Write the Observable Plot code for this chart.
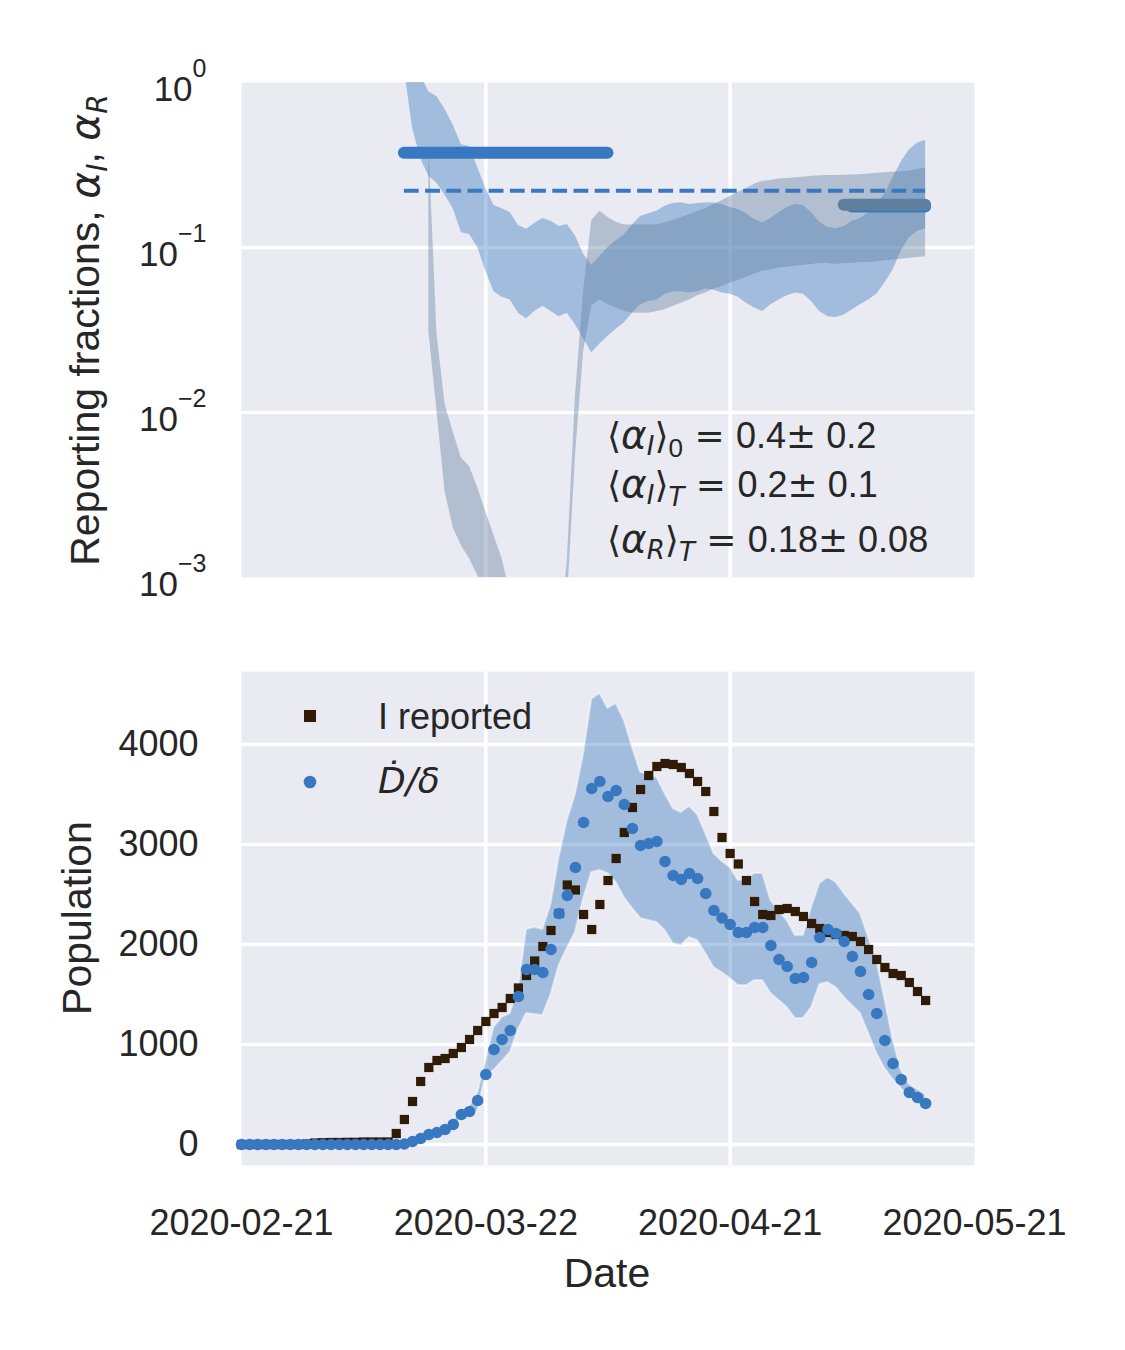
<!DOCTYPE html>
<html><head><meta charset="utf-8">
<script src="https://cdn.jsdelivr.net/npm/d3@7"></script>
<script src="https://cdn.jsdelivr.net/npm/@observablehq/plot@0.6"></script>
<style>
html,body{margin:0;padding:0;background:#fff;}
#wrap{position:relative;width:1125px;height:1350px;}
#wrap svg{position:absolute;left:0;overflow:visible;}
</style></head><body><div id="wrap"></div>
<script>
// ---------- data ----------
const xTickLabels = ["2020-02-21", "2020-03-22", "2020-04-21", "2020-05-21"];
const popTicks = [0, 1000, 2000, 3000, 4000];
const fracTicks = [1, 0.1, 0.01, 0.001];

// bottom panel: one value per day, day 0 = 2020-02-21 ... day 84 = 2020-05-15
const iReported = [0,0,0,0,0,0,0,0,5, 15,18,20,20,22,22,25,25,25,25,
  110,250,430,630,770,840,860,910,970,1050,
  1140,1230,1310,1370,1460,1565,1690,1835,1980,2140,
  2310,2595,2545,2300,2150,2400,2640,2860,3120,3370,
  3550,3690,3780,3810,3800,3770,3710,3630,3530,3330,
  3070,2910,2805,2640,2430,2300,2290,2350,2360,2330,
  2280,2210,2160,2120,2100,2090,2080,2030,1950,1850,
  1770,1710,1690,1620,1530,1440];
const deathsOverDelta = [0,0,0,0,0,0,0,0,0,0,0,0,0,0,0,0,0,0,0,0,
  5,30,60,100,120,150,200,300,330,440,
  700,950,1050,1140,1480,1750,1750,1720,1950,2310,
  2490,2770,3220,3560,3630,3480,3540,3400,3160,2990,
  3010,3030,2830,2690,2650,2710,2660,2510,2340,2265,
  2200,2120,2120,2170,2170,1990,1850,1780,1660,1670,
  1820,2070,2150,2110,2030,1880,1730,1500,1310,1040,
  810,650,520,470,410];
const deathsLow = [0,0,0,0,0,0,0,0,0,0,0,0,0,0,0,0,0,0,0,0,
  0,20,45,80,100,125,170,260,290,330,
  700,740,830,920,1150,1310,1300,1290,1500,1790,
  1960,2120,2460,2720,2740,2710,2620,2470,2360,2260,
  2240,2220,2140,2010,1990,2070,2040,1910,1770,1720,
  1660,1590,1590,1640,1640,1510,1440,1370,1260,1260,
  1370,1600,1620,1570,1470,1390,1310,1110,910,760,
  650,560,470,410,360];
const deathsHigh = [8,8,8,8,8,8,8,8,8,8,8,8,8,8,8,8,8,8,8,8,
  12,40,75,120,140,175,230,340,380,510,
  830,1170,1270,1310,1550,2150,2170,2150,2400,2870,
  3240,3500,3900,4450,4510,4360,4410,4240,3970,3720,
  3700,3670,3510,3360,3320,3380,3300,3110,2910,2830,
  2770,2640,2650,2710,2710,2440,2330,2240,2090,2090,
  2370,2610,2670,2620,2510,2410,2310,2070,1840,1450,
  1050,740,600,550,500];

// top panel: alpha_I band from day 20, alpha_R band from day 23 (to day 84)
const alphaIStart = 20;
const alphaILow = [1.2,0.53,0.346,0.27,0.245,0.207,0.172,0.123,0.12,0.10,
  0.072,0.054,0.050,0.048,0.040,0.037,0.041,0.044,0.041,0.038,
  0.040,0.034,0.028,0.023,0.026,0.029,0.032,0.035,0.040,0.045,
  0.047,0.048,0.052,0.054,0.054,0.053,0.054,0.056,0.055,0.053,
  0.052,0.050,0.046,0.043,0.041,0.045,0.048,0.051,0.053,0.052,
  0.047,0.041,0.038,0.0377,0.039,0.042,0.045,0.048,0.052,0.061,
  0.073,0.095,0.115,0.125,0.13];
const alphaIHigh = [3,2,1.1,0.88,0.82,0.686,0.55,0.42,0.41,0.305,
  0.228,0.18,0.172,0.163,0.136,0.129,0.14,0.15,0.144,0.134,
  0.138,0.118,0.091,0.078,0.088,0.100,0.110,0.119,0.137,0.154,
  0.160,0.166,0.178,0.185,0.187,0.182,0.185,0.186,0.186,0.182,
  0.175,0.170,0.160,0.148,0.141,0.150,0.163,0.175,0.182,0.180,
  0.162,0.142,0.132,0.130,0.134,0.144,0.150,0.162,0.183,0.21,
  0.265,0.33,0.39,0.43,0.445];
const alphaRStart = 23;
const alphaRLow = [0.031,0.0102,0.0033,0.0020,0.00156,0.0013,0.00103,0.0008,0.0005,0.0003,
  0.0002,0.0001,0.00007,0.00005,0.00005,0.00005,0.0001,0.0007,0.0054,0.0233,
  0.044,0.048,0.045,0.043,0.041,0.040,0.040,0.040,0.041,0.042,
  0.044,0.046,0.048,0.051,0.053,0.056,0.058,0.061,0.063,0.066,
  0.069,0.072,0.073,0.075,0.076,0.077,0.078,0.079,0.080,0.080,
  0.079,0.080,0.080,0.081,0.081,0.082,0.083,0.084,0.085,0.086,
  0.087,0.088];
const alphaRHigh = [0.43,0.030,0.0112,0.0076,0.0053,0.0047,0.0035,0.0025,0.0018,0.0013,
  0.0008,0.0004,0.0002,0.0001,0.0001,0.0001,0.0004,0.00125,0.0125,0.054,
  0.145,0.166,0.152,0.142,0.137,0.137,0.137,0.137,0.137,0.141,
  0.146,0.152,0.158,0.165,0.172,0.182,0.192,0.204,0.216,0.228,
  0.243,0.252,0.255,0.260,0.262,0.265,0.267,0.270,0.272,0.273,
  0.273,0.274,0.275,0.276,0.279,0.282,0.284,0.286,0.288,0.291,
  0.297,0.303];
// mean reporting fractions: [startDay, endDay, value]
const meanAlphaI0 = [20, 45, 0.375];
const meanAlphaIT = [20, 84, 0.221];
const meanAlphaITlate = [75, 84, 0.177];
const meanAlphaRT = [74, 84, 0.1815];

// ---------- helpers ----------
const font = '"Liberation Sans", Arial, Helvetica, sans-serif';
const math = '"DejaVu Sans", sans-serif';
const txt = "#262626";
const blue = "#3878c0", slate = "#5e809e", brown = "#2f1b06", bg = "#eaeaf2";
const day = i => new Date(Date.UTC(2020, 1, 21 + i));
const series = (start, arr) => arr.map((v, i) => ({date: day(start + i), v}));
const band = (start, lo, hi) => lo.map((l, i) => ({date: day(start + i), lo: l, hi: hi[i]}));
const seg = ([a, b, v]) => [{x1: day(a), x2: day(b), v}];
const xDomain = [new Date(xTickLabels[0]), new Date(xTickLabels[3])];
const xTickDates = xTickLabels.map(s => new Date(s));
const grid = {stroke: "#fff", strokeOpacity: 1, strokeWidth: 3.5};

function rich(svg, x, y, parts, {size = 36, anchor = "start", rotate = 0} = {}) {
  const t = d3.select(svg).append("text")
    .attr("transform", `translate(${x},${y})` + (rotate ? ` rotate(${rotate})` : ""))
    .attr("text-anchor", anchor).attr("font-size", size)
    .attr("fill", txt).attr("font-family", font)
    .style("white-space", "pre");
  let off = 0;
  for (const p of parts) {
    const target = p.sub ? p.sub : p.sup ? -p.sup : 0;
    const ts = t.append("tspan").text(p.t).attr("dy", target - off);
    off = target;
    if (p.size) ts.attr("font-size", p.size);
    if (p.it) ts.attr("font-style", "italic");
    if (p.m) ts.attr("font-family", math);
  }
  return t;
}

const wrap = document.getElementById("wrap");

// ---------- top panel ----------
const topPlot = Plot.plot({
  width: 1125, height: 620,
  marginLeft: 241, marginRight: 151, marginTop: 82, marginBottom: 43,
  style: {fontFamily: font, background: "transparent", overflow: "visible", color: txt},
  x: {type: "utc", domain: xDomain, axis: null},
  y: {type: "log", domain: [1e-3, 1]},
  marks: [
    Plot.frame({fill: bg, stroke: null}),
    Plot.gridX(xTickDates.slice(1, 3), grid),
    Plot.gridY([0.1, 0.01], grid),
    Plot.axisY(fracTicks, {tickSize: 0, tickPadding: 35, fontSize: 35, dy: 7, fill: txt, label: null,
      tickFormat: d => "10^" + Math.round(Math.log10(d))}),
    Plot.areaY(band(alphaIStart, alphaILow, alphaIHigh), {x: "date", y1: "lo", y2: "hi", fill: blue, fillOpacity: 0.4, clip: true}),
    Plot.areaY(band(alphaRStart, alphaRLow, alphaRHigh), {x: "date", y1: "lo", y2: "hi", fill: slate, fillOpacity: 0.4, clip: true}),
    Plot.ruleY(seg(meanAlphaI0), {y: "v", x1: "x1", x2: "x2", stroke: blue, strokeWidth: 12, strokeLinecap: "round"}),
    Plot.ruleY(seg(meanAlphaIT), {y: "v", x1: "x1", x2: "x2", stroke: blue, strokeWidth: 4, strokeDasharray: "14.8,6.4"}),
    Plot.ruleY(seg(meanAlphaITlate), {y: "v", x1: "x1", x2: "x2", stroke: blue, strokeWidth: 12, strokeLinecap: "round"}),
    Plot.ruleY(seg(meanAlphaRT), {y: "v", x1: "x1", x2: "x2", stroke: slate, strokeWidth: 12, strokeLinecap: "round"})
  ]
});
topPlot.style.top = "0px";
wrap.appendChild(topPlot);
topPlot.querySelectorAll('g[aria-label="y-axis tick label"] text').forEach(t => {
  const s = t.textContent;
  const e = s.split("^")[1].replace("-", "\u2212");
  t.textContent = "10";
  d3.select(t).append("tspan").attr("font-size", 25).attr("dy", -24).text(e);
});
rich(topPlot, 99, 330, [
  {t: "Reporting fractions, "}, {t: "α", it: 1, m: 1}, {t: "I", it: 1, sub: 8, size: 28, m: 1},
  {t: ", "}, {t: "α", it: 1, m: 1}, {t: "R", it: 1, sub: 8, size: 28, m: 1}
], {size: 41, anchor: "middle", rotate: -90});
const ann = [
  [448, "I", "0", false, "0.4", "0.2"],
  [497, "I", "T", true, "0.2", "0.1"],
  [552, "R", "T", true, "0.18", "0.08"]
];
ann.forEach(([y, a, b, bit, v, e]) => rich(topPlot, 607, y, [
  {t: "⟨", m: 1}, {t: "α", it: 1, m: 1, size: 39}, {t: a, it: 1, sub: 7, size: 26, m: 1}, {t: "⟩", m: 1},
  {t: b, it: bit, sub: 9, size: 26, m: bit}, {t: " = ", m: 1}, {t: v}, {t: "±", m: 1}, {t: " " + e}
], {size: 36}));

// ---------- bottom panel ----------
const bottomPlot = Plot.plot({
  width: 1125, height: 730,
  marginLeft: 241, marginRight: 151, marginTop: 51, marginBottom: 185,
  style: {fontFamily: font, background: "transparent", overflow: "visible", color: txt},
  x: {type: "utc", domain: xDomain},
  y: {domain: [-210, 4730]},
  marks: [
    Plot.frame({fill: bg, stroke: null}),
    Plot.gridX(xTickDates.slice(1, 3), grid),
    Plot.gridY(popTicks, grid),
    Plot.axisX(xTickDates, {tickSize: 0, tickPadding: 44, fontSize: 36, fill: txt, label: null,
      tickFormat: d3.utcFormat("%Y-%m-%d")}),
    Plot.axisY(popTicks, {tickSize: 0, tickPadding: 43, fontSize: 36, fill: txt, label: null,
      tickFormat: d => String(d)}),
    Plot.areaY(band(0, deathsLow, deathsHigh), {x: "date", y1: "lo", y2: "hi", fill: blue, fillOpacity: 0.4,
      stroke: "#fff", strokeOpacity: 0.45, strokeWidth: 2, clip: true}),
    Plot.dot(series(0, iReported), {x: "date", y: "v", symbol: "square", r: 5.2, fill: brown, stroke: null}),
    Plot.dot(series(0, deathsOverDelta), {x: "date", y: "v", r: 5.8, fill: blue, stroke: null})
  ]
});
bottomPlot.style.top = "620px";
wrap.appendChild(bottomPlot);
const bs = d3.select(bottomPlot);
bs.append("rect").attr("x", 304).attr("y", 90).attr("width", 12).attr("height", 12).attr("fill", brown);
bs.append("circle").attr("cx", 310).attr("cy", 162).attr("r", 6.3).attr("fill", blue);
rich(bottomPlot, 378, 109, [{t: "I reported"}], {size: 36});
rich(bottomPlot, 378, 173, [{t: "Ḋ/δ", it: 1, m: 1}], {size: 36});
rich(bottomPlot, 91, 298, [{t: "Population"}], {size: 41, anchor: "middle", rotate: -90});
rich(bottomPlot, 607, 667, [{t: "Date"}], {size: 41, anchor: "middle"});
</script></body></html>
